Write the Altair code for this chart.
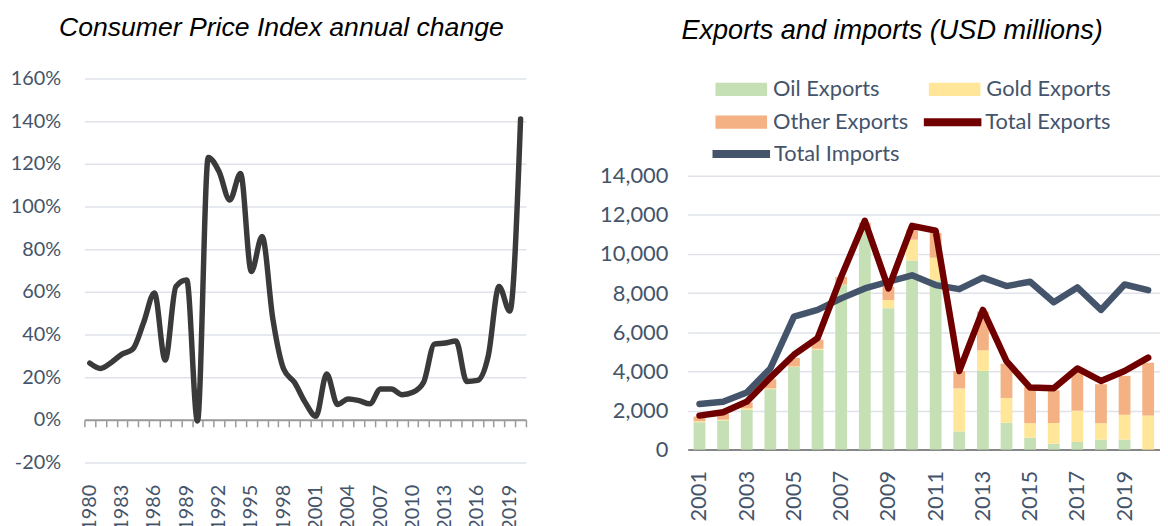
import altair as alt
import pandas as pd

# ---------------- data ----------------
cpi_years = list(range(1980, 2021))
cpi_values = [26.6, 24.1, 26.9, 30.8, 33.2, 45.6, 59.5, 28.0, 62.5, 65.5,
              -0.5, 123.0, 116.4, 103.0, 115.5, 69.5, 86.0, 47.2, 23.8, 17.6,
              8.2, 1.7, 21.5, 7.2, 9.8, 9.0, 7.5, 14.5, 14.5, 11.8,
              12.9, 17.6, 35.5, 36.0, 37.0, 18.0, 18.5, 30.0, 62.5, 51.0,
              141.0]
cpi_label_years = list(range(1980, 2021, 3))
cpi_ticks = list(range(-20, 161, 20))

trade_years = list(range(2001, 2021))
oil_exports = [1400, 1490, 2040, 3090, 4220, 5110, 8440, 11300, 7230, 9670,
               8660, 930, 4020, 1370, 610, 300, 390, 510, 510, 0]
gold_exports = [50, 40, 80, 40, 30, 50, 0, 0, 420, 1060,
                1150, 2200, 1050, 1270, 740, 1060, 1600, 840, 1270, 1740]
other_exports = [240, 300, 294, 465, 443, 461, 388, 300, 672, 506,
                 1263, 894, 1992, 1752, 1857, 1671, 2025, 1992, 1992, 2700]
total_exports = [1739, 1910, 2450, 3680, 4850, 5700, 8830, 11700, 8240, 11440,
                 11190, 4020, 7140, 4520, 3170, 3140, 4150, 3510, 4020, 4700]
total_imports = [2330, 2450, 2920, 4150, 6800, 7140, 7730, 8240, 8580, 8910,
                 8410, 8200, 8790, 8360, 8580, 7530, 8290, 7140, 8440, 8150]
trade_label_years = list(range(2001, 2021, 2))
trade_ticks = list(range(0, 14001, 2000))

bar_series = ["Oil Exports", "Gold Exports", "Other Exports"]
bar_colors = ["#c5e0b4", "#ffe699", "#f4b183"]
exports_name, exports_color = "Total Exports", "#700000"
imports_name, imports_color = "Total Imports", "#44546a"

# ---------------- styling ----------------
FONT = "Lato"
TFONT = "Liberation Sans"
LBL = "#44546a"
GRID = "#dfe3e9"

# ---------------- left chart ----------------
LEFT_H = 387
cpi_df = pd.DataFrame({"year": cpi_years, "cpi": cpi_values})
x_scale_left = alt.Scale(type="band", paddingInner=0, paddingOuter=0)
y_scale_left = alt.Scale(domain=[-20, 160], nice=False, zero=False)
y_axis_left = alt.Axis(values=cpi_ticks, labelExpr="datum.value + '%'", title=None,
                       grid=True, gridColor=GRID, gridWidth=1.5, domain=False,
                       ticks=False, labelFont=FONT, labelFontSize=20,
                       labelColor=LBL, labelPadding=24)

line_left = alt.Chart(cpi_df).mark_line(
    color="#3a3a3a", strokeWidth=5.5, interpolate="monotone",
    strokeCap="round", strokeJoin="round"
).encode(
    x=alt.X("year:O", scale=x_scale_left, bandPosition=0.5,
            axis=alt.Axis(orient="bottom", values=cpi_label_years, labelAngle=-90,
                          ticks=False, domain=False, grid=False, title=None,
                          labelFont=FONT, labelFontSize=20, labelColor=LBL,
                          labelPadding=22)),
    y=alt.Y("cpi:Q", scale=y_scale_left, axis=y_axis_left),
)

# the 0 % baseline with its category ticks (sits 20/180 of the height above the bottom)
zero_axis = alt.Chart(cpi_df).mark_line(opacity=0).encode(
    x=alt.X("year:O", scale=x_scale_left, bandPosition=0.5,
            axis=alt.Axis(orient="bottom", offset=-LEFT_H * 20 / 180, tickBand="extent",
                          labels=False, domain=True, domainColor="#9a9a9a",
                          domainWidth=2, ticks=True, tickColor="#9a9a9a",
                          tickWidth=1.5, tickSize=7, grid=False, title=None)),
    y=alt.Y("cpi:Q", scale=y_scale_left, axis=y_axis_left),
)

left = alt.layer(zero_axis, line_left).resolve_axis(x="independent").properties(
    width=445, height=LEFT_H,
    title=alt.TitleParams("Consumer Price Index annual change", font=TFONT,
                          fontSize=26.8, fontStyle="italic", fontWeight="normal",
                          color="#000000", anchor="middle", dx=-24, offset=27),
)

# ---------------- right chart ----------------
rows = []
for i, y in enumerate(trade_years):
    rows.append({"year": y, "series": "Oil Exports", "value": oil_exports[i], "ord": 0})
    rows.append({"year": y, "series": "Gold Exports", "value": gold_exports[i], "ord": 1})
    rows.append({"year": y, "series": "Other Exports", "value": other_exports[i], "ord": 2})
bars_df = pd.DataFrame(rows)
exp_df = pd.DataFrame({"year": trade_years, "series": exports_name, "value": total_exports})
imp_df = pd.DataFrame({"year": trade_years, "series": imports_name, "value": total_imports})

# wide, flat swatch drawn at twice the symbol radius (keeps legend rows compact)
RECT = "M-2,-0.52L2,-0.52L2,0.52L-2,0.52Z"
common_legend = dict(orient="none", title=None, labelFont=FONT, labelFontSize=22,
                     labelColor=LBL, padding=0)

RIGHT_H = 374          # plot height (same top as the left plot)
GRID_H = 276           # height occupied by the 0..14,000 grid
y_top = 14000 * RIGHT_H / GRID_H   # room above the grid holds the legend

x_scale_right = alt.Scale(type="band", paddingInner=0.5, paddingOuter=0.25)
x_axis_right = alt.Axis(orient="bottom", values=trade_label_years, labelAngle=-90,
                        ticks=False, domain=True, domainColor="#878787", domainWidth=2,
                        grid=False, title=None, labelFont=FONT, labelFontSize=22,
                        labelColor=LBL, labelPadding=21)
y_scale_right = alt.Scale(domain=[0, y_top], nice=False)
y_axis_right = alt.Axis(values=trade_ticks, format=",.0f", title=None, grid=True,
                        gridColor=GRID, gridWidth=1.5, domain=False, ticks=False,
                        labelFont=FONT, labelFontSize=22, labelColor=LBL,
                        labelPadding=20)

bars = alt.Chart(bars_df).mark_bar().encode(
    x=alt.X("year:O", scale=x_scale_right, axis=x_axis_right),
    y=alt.Y("value:Q", stack="zero", scale=y_scale_right, axis=y_axis_right),
    fill=alt.Fill("series:N", scale=alt.Scale(domain=bar_series, range=bar_colors),
                  legend=alt.Legend(legendX=40, legendY=-3, columns=2,
                                    direction="horizontal",
                                    symbolType=RECT, symbolSize=676, labelOffset=18,
                                    rowPadding=8, columnPadding=20, **common_legend)),
    order=alt.Order("ord:Q", sort="ascending"),
)

imp_line = alt.Chart(imp_df).mark_line(strokeWidth=6.5, strokeCap="round", strokeJoin="round").encode(
    x=alt.X("year:O", scale=x_scale_right, axis=x_axis_right, bandPosition=0.5),
    y=alt.Y("value:Q", scale=y_scale_right, axis=y_axis_right),
    color=alt.Color("series:N", scale=alt.Scale(domain=[imports_name], range=[imports_color]),
                    legend=alt.Legend(legendX=21, legendY=43, symbolType="stroke",
                                      symbolSize=3364, symbolStrokeWidth=8,
                                      labelOffset=0, **common_legend)),
)

exp_line = alt.Chart(exp_df).mark_line(strokeWidth=6.5, strokeCap="round", strokeJoin="round").encode(
    x=alt.X("year:O", scale=x_scale_right, axis=x_axis_right, bandPosition=0.5),
    y=alt.Y("value:Q", scale=y_scale_right, axis=y_axis_right),
    stroke=alt.Stroke("series:N", scale=alt.Scale(domain=[exports_name], range=[exports_color]),
                      legend=alt.Legend(legendX=234, legendY=11, symbolType="stroke",
                                        symbolSize=3364, symbolStrokeWidth=8,
                                        labelOffset=0, **common_legend)),
)

right = alt.layer(bars, imp_line, exp_line).properties(
    width=476, height=RIGHT_H,
    title=alt.TitleParams("Exports and imports (USD millions)", font=TFONT,
                          fontSize=27.3, fontStyle="italic", fontWeight="normal",
                          color="#000000", anchor="middle", dx=-32, offset=32),
)

chart = alt.hconcat(left, right, spacing=73).resolve_legend(
    fill="independent", stroke="independent", color="independent"
).properties(
    padding={"left": 2, "top": 5, "right": 0, "bottom": 0},
    background="white",
).configure_view(stroke=None)

chart.save("out.html", embed_options={"renderer": "svg", "actions": False})
